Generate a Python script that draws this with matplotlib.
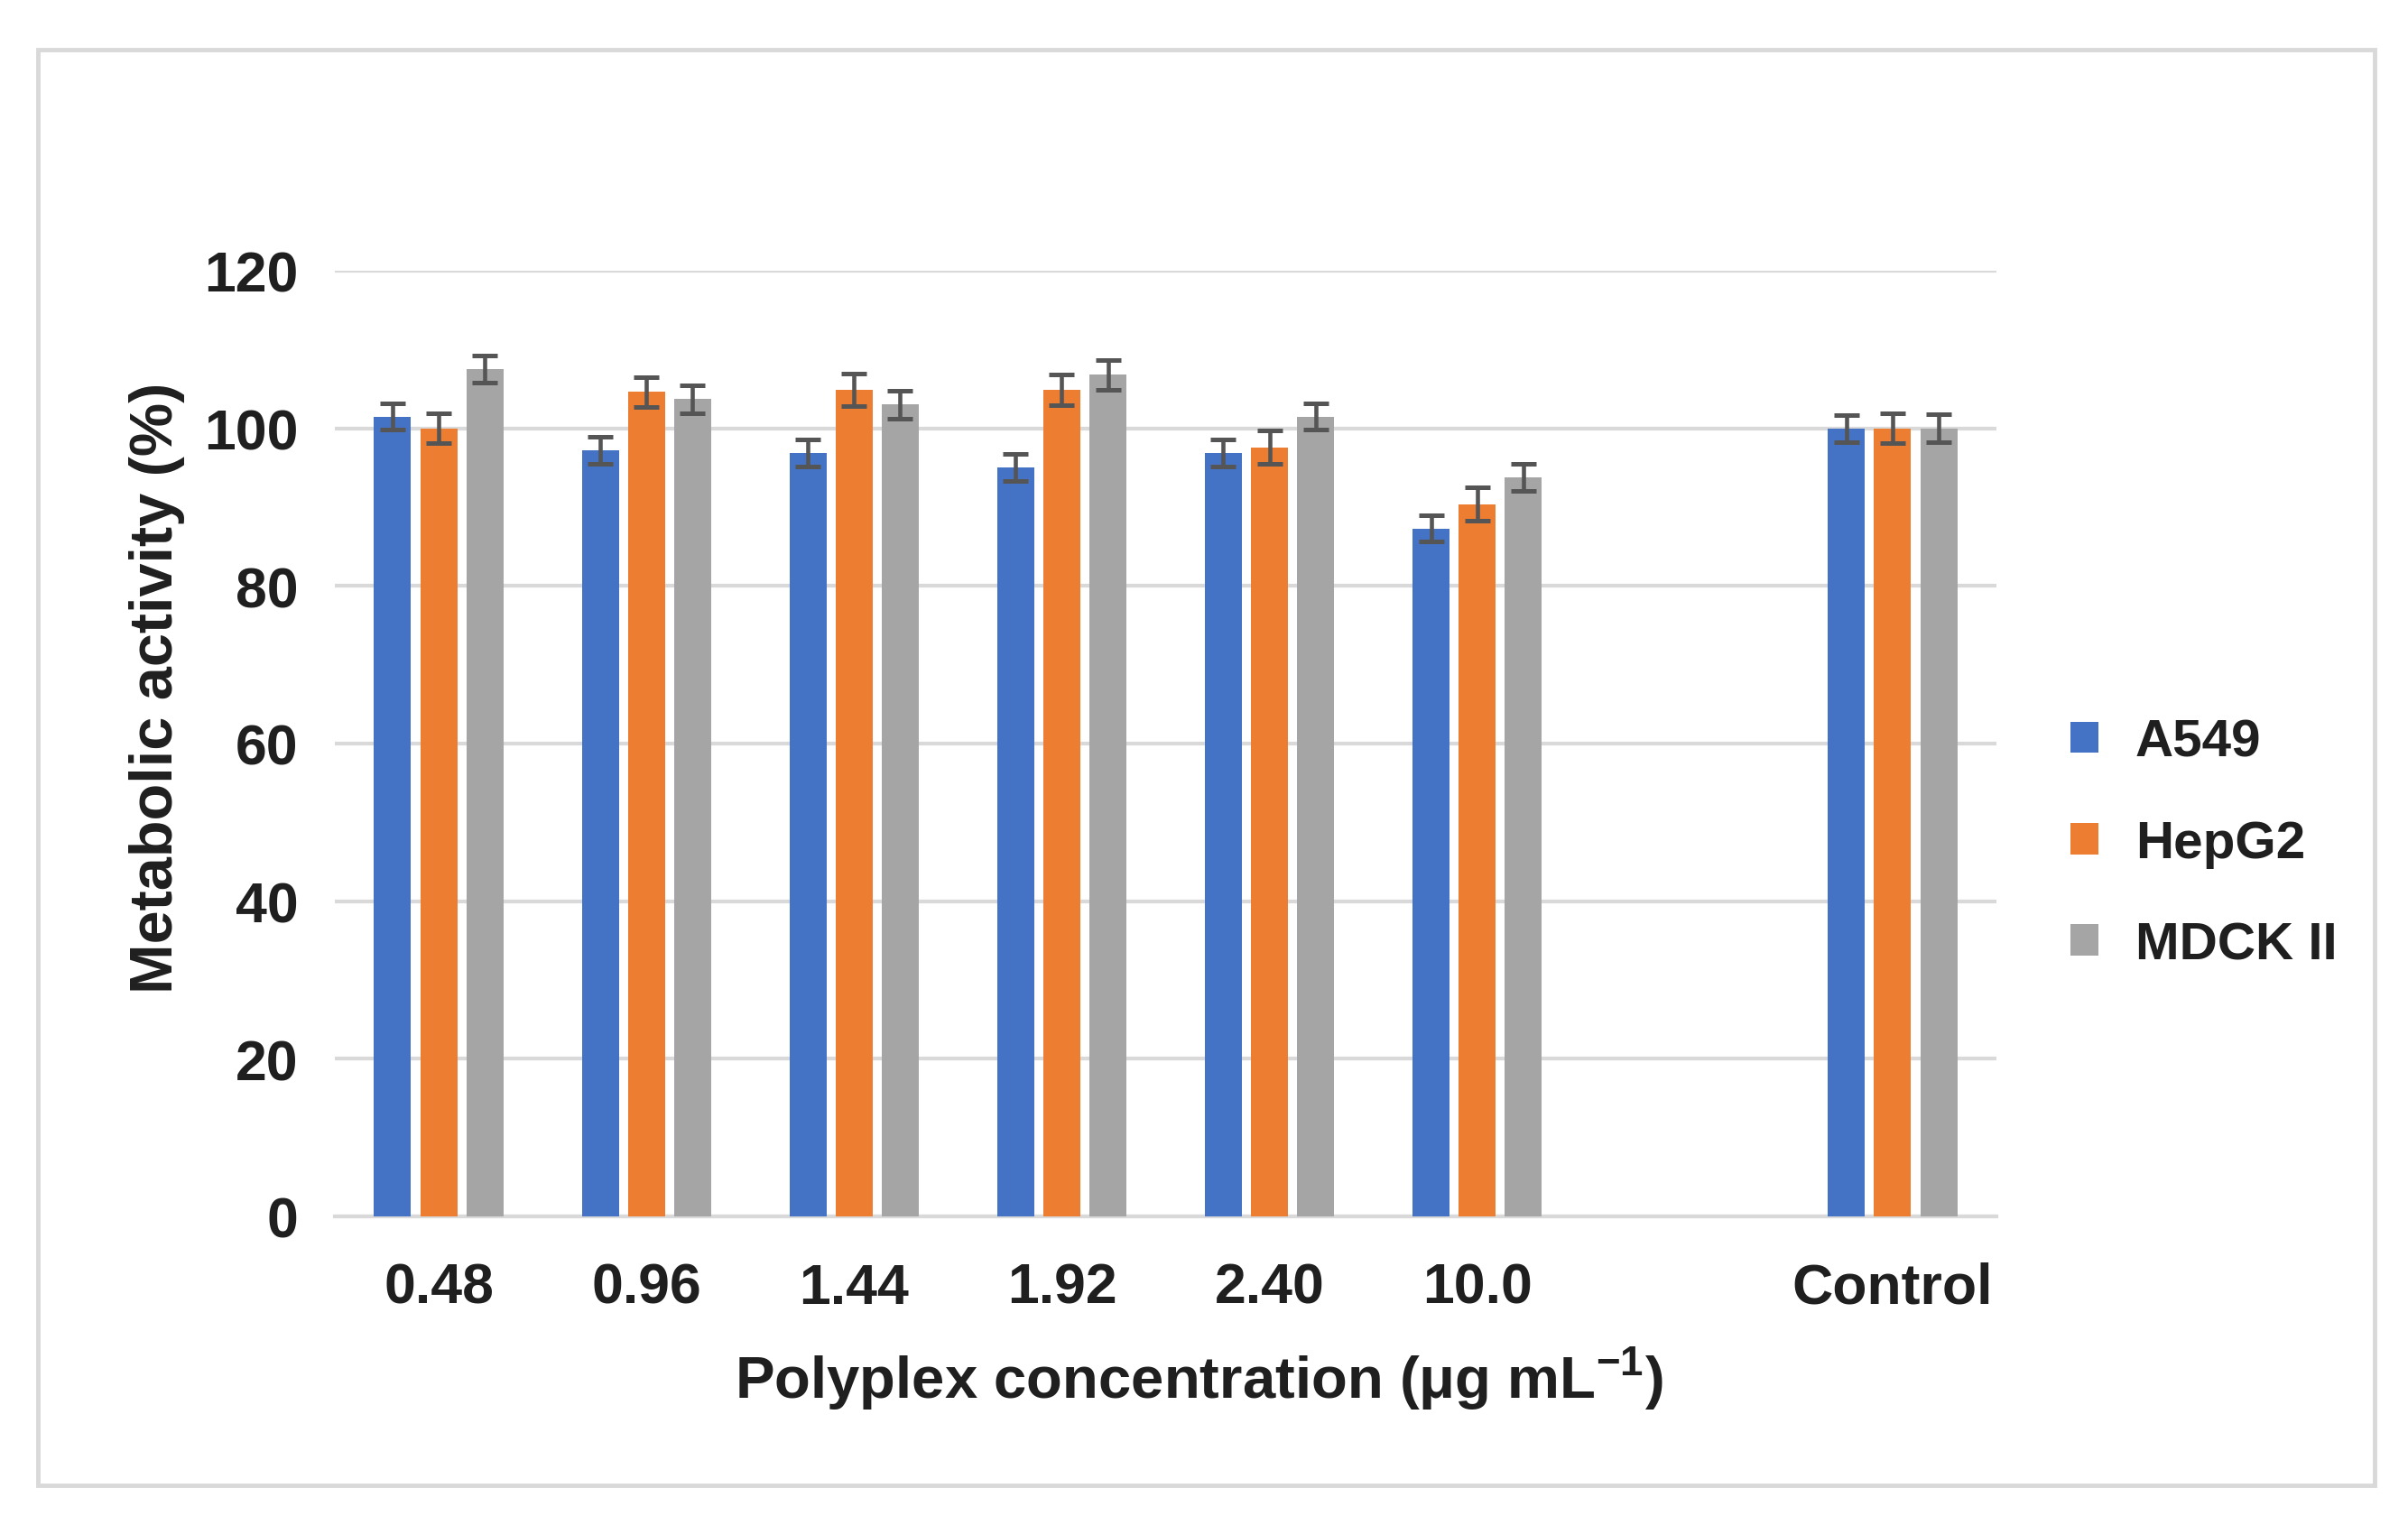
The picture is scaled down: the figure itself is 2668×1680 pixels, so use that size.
import numpy as np
import matplotlib
matplotlib.use("Agg")
import matplotlib.pyplot as plt
from matplotlib.patches import Rectangle

plt.rcParams['font.family'] = ['Liberation Sans', 'DejaVu Sans']
plt.rcParams['font.weight'] = 'bold'
plt.rcParams['mathtext.fontset'] = 'custom'
plt.rcParams['mathtext.rm'] = 'Liberation Sans:bold'
plt.rcParams['mathtext.bf'] = 'Liberation Sans:bold'

categories = ["0.48", "0.96", "1.44", "1.92", "2.40", "10.0", "", "Control"]
series_names = ["A549", "HepG2", "MDCK II"]
a549 = [101.5, 97.2, 96.9, 95.0, 96.9, 87.3, np.nan, 100.0]
hepg2 = [100.0, 104.6, 104.9, 104.9, 97.6, 90.4, np.nan, 100.0]
mdck = [107.5, 103.7, 103.0, 106.8, 101.5, 93.8, np.nan, 100.0]
a549_err = [1.7, 1.7, 1.7, 1.7, 1.7, 1.7, np.nan, 1.7]
hepg2_err = [1.9, 1.9, 2.1, 1.95, 2.1, 2.1, np.nan, 1.9]
mdck_err = [1.7, 1.75, 1.75, 1.9, 1.7, 1.7, np.nan, 1.75]
colors = ["#4472C4", "#ED7D31", "#A5A5A5"]
yticks = [0, 20, 40, 60, 80, 100, 120]

fig = plt.figure(figsize=(26.68, 16.81), dpi=100)
# outer border
fig.patches.append(Rectangle((42/2668, 1 - 1647/1681), (2631-42)/2668, (1647-56)/1681,
                             transform=fig.transFigure, fill=False,
                             edgecolor="#D9D9D9", linewidth=3.5, zorder=0))

ax = fig.add_axes([371/2668, 1 - 1349/1681, (2212-371)/2668, (1349-301)/1681])

x = np.arange(len(categories))
width = 0.178
pitch = 0.222
all_vals = [a549, hepg2, mdck]
all_errs = [a549_err, hepg2_err, mdck_err]
for i, (vals, errs) in enumerate(zip(all_vals, all_errs)):
    v = np.array(vals, dtype=float)
    e = np.array(errs, dtype=float)
    m = ~np.isnan(v)
    xs = x[m] + (i - 1) * pitch
    ax.bar(xs, v[m], width=width, color=colors[i], label=series_names[i], zorder=3)
    ax.errorbar(xs, v[m], yerr=e[m], fmt="none", ecolor="#555555",
                elinewidth=3.3, capsize=10, capthick=3.6, zorder=4)

ax.set_xlim(-0.5, len(categories) - 0.5)
ax.set_ylim(0, 120)
ax.set_yticks(yticks)
ax.set_yticklabels([str(t) for t in yticks])
ax.set_xticks(x)
ax.set_xticklabels(categories)
ax.yaxis.grid(True, color="#D9D9D9", linewidth=3, zorder=0)
ax.set_axisbelow(True)
for s in ["top", "right", "left"]:
    ax.spines[s].set_visible(False)
ax.spines["bottom"].set_color("#D9D9D9")
ax.spines["bottom"].set_linewidth(3)
ax.tick_params(axis="both", length=0, labelsize=45, colors="#1F1F1F")
ax.tick_params(axis="y", pad=29)
ax.tick_params(axis="x", pad=36)
for lab in ax.get_xticklabels() + ax.get_yticklabels():
    lab.set_fontweight("bold")

ax.set_ylabel("Metabolic activity (%)", fontsize=48, fontweight="bold", color="#1F1F1F")
ax.yaxis.set_label_coords(-0.090, 0.56)
ax.set_xlabel(r"Polyplex concentration (μg mL$^{\mathregular{-1}}$)", fontsize=47,
              fontweight="bold", color="#1F1F1F", labelpad=24)
ax.xaxis.set_label_coords(0.52, -0.135)

leg = ax.legend(loc="center left", bbox_to_anchor=(2294/2668, 1 - 936/1681),
                bbox_transform=fig.transFigure, frameon=False, fontsize=42, borderpad=0,
                borderaxespad=0,
                handlelength=0.53, handleheight=0.53, handletextpad=0.70, labelspacing=1.0)
for t in leg.get_texts():
    t.set_fontweight("bold")
    t.set_color("#1F1F1F")

fig.savefig("out.png", dpi=100, facecolor="white")
